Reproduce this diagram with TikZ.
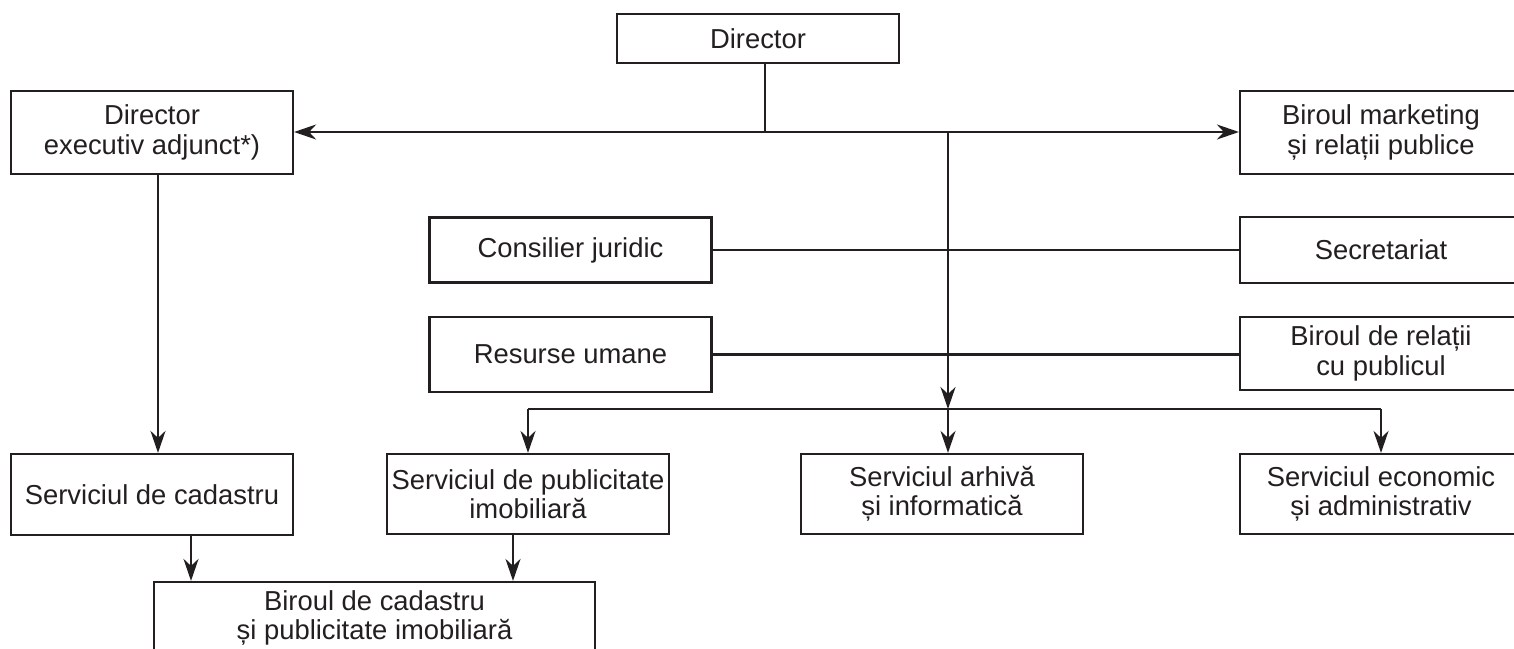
\documentclass[tikz,border=0pt]{standalone}
\usepackage{fontspec}
\setmainfont{Liberation Sans}
\usetikzlibrary{arrows.meta}
\definecolor{ink}{RGB}{35,31,32}
\begin{document}
\begin{tikzpicture}[x=0.5pt,y=-0.5pt,
  box/.style={draw=ink, line width=1.1pt, text=ink, align=center, inner sep=0pt,
    minimum width=141pt, font=\fontsize{13.7pt}{14.7pt}\selectfont},
  conn/.style={draw=ink, line width=1.1pt},
  arr/.style={conn, -{Stealth[length=11pt,width=7.5pt,inset=3.5pt]}}]
\useasboundingbox (0,0) rectangle (1514,648);
\clip (0,0) rectangle (1514,648);
\fill[white] (0,0) rectangle (1514,648);
% nodes
\node[box, minimum height=24.5pt] (dir) at (758,38.5) {Director};
\node[box, minimum height=41.5pt] (dea) at (152,132.5) {Director\\executiv adjunct*)};
\node[box, minimum height=41.5pt] (mkt) at (1381,132.5) {Biroul marketing\\și relații publice};
\node[box, minimum height=32.5pt] (cons) at (570.5,250) {Consilier juridic};
\node[box, minimum height=33pt] (sec) at (1381,250) {Secretariat};
\node[box, minimum height=37.5pt] (hr) at (570.5,354.5) {Resurse umane};
\node[box, minimum height=36.5pt] (brp) at (1381,353.5) {Biroul de relații\\cu publicul};
\node[box, minimum height=40.5pt] (cad) at (152,494.5) {Serviciul de cadastru};
\node[box, minimum height=40pt] (pub) at (528,494) {Serviciul de publicitate\\imobiliară};
\node[box, minimum height=40pt] (arh) at (942,494) {Serviciul arhivă\\și informatică};
\node[box, minimum height=40pt] (eco) at (1381,494) {Serviciul economic\\și administrativ};
\node[box, minimum width=220.5pt, minimum height=36pt] (bir) at (374.5,618) {Biroul de cadastru\\și publicitate imobiliară};
% junction coordinates
\coordinate (j1) at (765,132);
\coordinate (j2) at (948,132);
\coordinate (j3) at (948,409);
\coordinate (k1) at (158,0);
\coordinate (k2) at (191,0);
\coordinate (k3) at (513,0);
% connectors
\draw[conn] (dir.south -| j1) -- (j1);
\draw[arr] (j1) -- (dea.east |- j1);
\draw[arr] (j1) -- (mkt.west |- j1);
\draw[arr] (j2) -- (j3);
\draw[conn] (pub.north |- j3) -- (eco.north |- j3);
\draw[arr] (pub.north |- j3) -- (pub.north);
\draw[arr] (j3) -- (arh.north -| j3);
\draw[arr] (eco.north |- j3) -- (eco.north);
\draw[conn] (cons.east) -- (sec.west |- cons.east);
\draw[conn] (hr.east) -- (brp.west |- hr.east);
\draw[arr] (dea.south -| k1) -- (cad.north -| k1);
\draw[arr] (cad.south -| k2) -- (bir.north -| k2);
\draw[arr] (pub.south -| k3) -- (bir.north -| k3);
\end{tikzpicture}
\end{document}
